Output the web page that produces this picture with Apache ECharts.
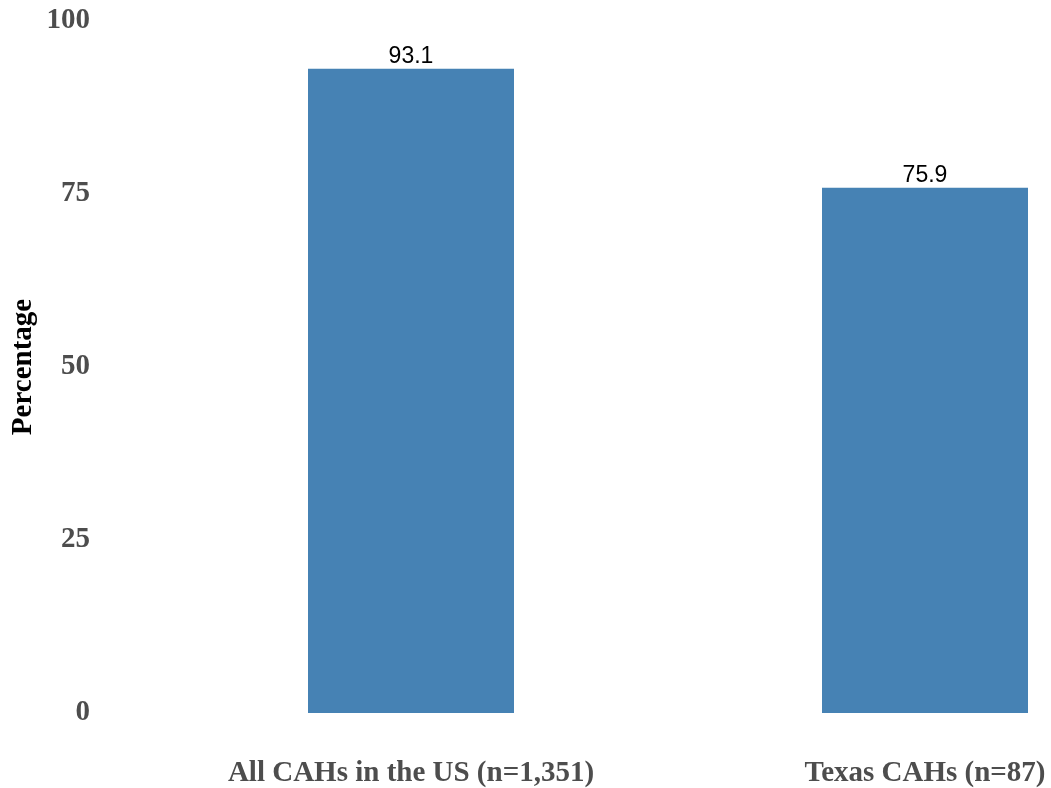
<!DOCTYPE html>
<html><head><meta charset="utf-8">
<script src="https://cdn.jsdelivr.net/npm/echarts@6/dist/echarts.min.js"></script>
<style>html,body{margin:0;padding:0;background:#fff}#c{width:1051px;height:788px}</style>
</head><body><div id="c"></div>
<script>
const categories = ["All CAHs in the US (n=1,351)", "Texas CAHs (n=87)"];
const values = [93.1, 75.9];
const yTicks = [0, 25, 50, 75, 100];

const chart = echarts.init(document.getElementById('c'));
chart.setOption({
  animation: false,
  backgroundColor: '#ffffff',
  grid: { left: 411, right: 126, top: 21, bottom: 75, containLabel: false, outerBoundsMode: 'none' },
  xAxis: {
    type: 'category', data: categories, boundaryGap: false,
    axisLine: { show: false }, axisTick: { show: false },
    axisLabel: { margin: 46, interval: 0, color: '#4d4d4d', fontFamily: 'Liberation Serif', fontWeight: 'bold', fontSize: 29 }
  },
  yAxis: {
    type: 'value', min: yTicks[0], max: yTicks[yTicks.length - 1], interval: 25,
    name: 'Percentage', nameLocation: 'middle', nameGap: 373,
    nameTextStyle: { color: '#000', fontFamily: 'Liberation Serif', fontWeight: 'bold', fontSize: 29 },
    axisLine: { show: false }, axisTick: { show: false }, splitLine: { show: false },
    axisLabel: { margin: 321, color: '#4d4d4d', fontFamily: 'Liberation Serif', fontWeight: 'bold', fontSize: 29 }
  },
  series: [{
    type: 'bar', data: values, barWidth: 206, clip: false,
    itemStyle: { color: '#4682B4' },
    label: { show: true, position: 'top', distance: 1, color: '#000', fontFamily: 'Liberation Sans', fontSize: 23,
      formatter: p => p.value.toFixed(1) }
  }]
});
</script></body></html>
